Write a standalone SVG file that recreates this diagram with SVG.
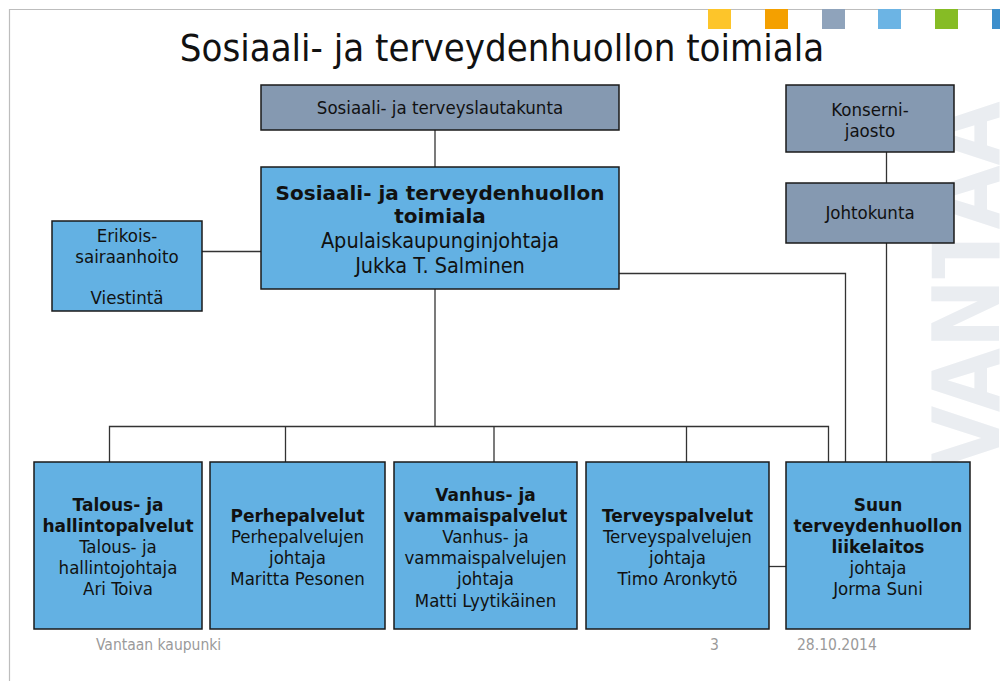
<svg xmlns="http://www.w3.org/2000/svg" width="1000" height="681" viewBox="0 0 1000 681">
<style>
.r{font-family:"DejaVu Sans Condensed","DejaVu Sans",sans-serif;font-stretch:condensed;fill:#111;text-anchor:middle}
.b{font-family:"DejaVu Sans",sans-serif;font-weight:bold;fill:#111;text-anchor:middle}
.gb{fill:#8599B1;stroke:#1a1a1a;stroke-width:1.5}
.bl{fill:#63B1E3;stroke:#1a1a1a;stroke-width:1.5}
.c{fill:none;stroke:#333;stroke-width:1.3}
.f{font-family:"DejaVu Sans Condensed","DejaVu Sans",sans-serif;font-stretch:condensed;fill:#9a9a9a;font-size:15.5px}
</style>
<rect width="1000" height="681" fill="#fff"/>
<text transform="translate(999,470) rotate(-90)" font-family="DejaVu Sans Condensed,DejaVu Sans,sans-serif" font-stretch="condensed" font-weight="bold" font-size="92" fill="#EAEDF1">VANTAA</text>
<g id="frame">
<line x1="9" y1="9.5" x2="1000" y2="9.5" stroke="#bdbdbd" stroke-width="1.2"/>
<line x1="9.5" y1="9" x2="9.5" y2="681" stroke="#bdbdbd" stroke-width="1.2"/>
<rect x="708" y="9" width="23" height="20" fill="#FDC52A"/>
<rect x="765" y="9" width="23" height="20" fill="#F4A000"/>
<rect x="822" y="9" width="23" height="20" fill="#8FA3BB"/>
<rect x="878" y="9" width="23" height="20" fill="#6CB4E4"/>
<rect x="935" y="9" width="23" height="20" fill="#86BC25"/>
<rect x="992" y="9" width="8" height="20" fill="#3D8FCC"/>
</g>
<text class="r" x="502" y="61" font-size="38">Sosiaali- ja terveydenhuollon toimiala</text>
<g id="connectors">
<path class="c" d="M435,130V167"/>
<path class="c" d="M202,251.5H261"/>
<path class="c" d="M619,273.5H845.5V462"/>
<path class="c" d="M886.5,152V183"/>
<path class="c" d="M886.5,243V462"/>
<path class="c" d="M435,289V426.5"/>
<path class="c" d="M109.5,462V426.5H828.5V462"/>
<path class="c" d="M285.5,426.5V462"/>
<path class="c" d="M494,426.5V462"/>
<path class="c" d="M686.5,426.5V462"/>
<path class="c" d="M769,566.5H786"/>
</g>
<g id="lautakunta">
<rect class="gb" x="261" y="85" width="358" height="45"/>
<text class="r" x="440" y="114" font-size="18.5">Sosiaali- ja terveyslautakunta</text>
</g>
<g id="toimiala">
<rect class="bl" x="261" y="167" width="358" height="122"/>
<text class="b" x="440" y="200" font-size="20">Sosiaali- ja terveydenhuollon</text>
<text class="b" x="440" y="223" font-size="20">toimiala</text>
<text class="r" x="440" y="248" font-size="21.5">Apulaiskaupunginjohtaja</text>
<text class="r" x="440" y="273" font-size="21.5">Jukka T. Salminen</text>
</g>
<g id="erikois">
<rect class="bl" x="52" y="221" width="150" height="90"/>
<text class="r" x="127" y="242" font-size="18.5">Erikois-</text>
<text class="r" x="127" y="263" font-size="18.5">sairaanhoito</text>
<text class="r" x="127" y="304" font-size="18.5">Viestintä</text>
</g>
<g id="konserni">
<rect class="gb" x="786" y="85" width="168" height="67"/>
<text class="r" x="870" y="116" font-size="18.5">Konserni-</text>
<text class="r" x="870" y="137" font-size="18.5">jaosto</text>
</g>
<g id="johtokunta">
<rect class="gb" x="786" y="183" width="168" height="60"/>
<text class="r" x="870" y="219" font-size="18.5">Johtokunta</text>
</g>
<g id="talous">
<rect class="bl" x="34" y="462" width="168" height="167"/>
<text class="b" x="118" y="511" font-size="17">Talous- ja</text>
<text class="b" x="118" y="532" font-size="17">hallintopalvelut</text>
<text class="r" x="118" y="553" font-size="18.5">Talous- ja</text>
<text class="r" x="118" y="574" font-size="18.5">hallintojohtaja</text>
<text class="r" x="118" y="595" font-size="18.5">Ari Toiva</text>
</g>
<g id="perhe">
<rect class="bl" x="210" y="462" width="175" height="167"/>
<text class="b" x="297.5" y="522" font-size="17">Perhepalvelut</text>
<text class="r" x="297.5" y="543" font-size="18.5">Perhepalvelujen</text>
<text class="r" x="297.5" y="564" font-size="18.5">johtaja</text>
<text class="r" x="297.5" y="585" font-size="18.5">Maritta Pesonen</text>
</g>
<g id="vanhus">
<rect class="bl" x="394" y="462" width="183" height="167"/>
<text class="b" x="485.5" y="501" font-size="17">Vanhus- ja</text>
<text class="b" x="485.5" y="522" font-size="17">vammaispalvelut</text>
<text class="r" x="485.5" y="543" font-size="18.5">Vanhus- ja</text>
<text class="r" x="485.5" y="564" font-size="18.5">vammaispalvelujen</text>
<text class="r" x="485.5" y="585" font-size="18.5">johtaja</text>
<text class="r" x="485.5" y="607" font-size="18.5">Matti Lyytikäinen</text>
</g>
<g id="terveys">
<rect class="bl" x="586" y="462" width="183" height="167"/>
<text class="b" x="677.5" y="522" font-size="17">Terveyspalvelut</text>
<text class="r" x="677.5" y="543" font-size="18.5">Terveyspalvelujen</text>
<text class="r" x="677.5" y="564" font-size="18.5">johtaja</text>
<text class="r" x="677.5" y="585" font-size="18.5">Timo Aronkytö</text>
</g>
<g id="suun">
<rect class="bl" x="786" y="462" width="184" height="167"/>
<text class="b" x="878" y="511" font-size="17">Suun</text>
<text class="b" x="878" y="532" font-size="17">terveydenhuollon</text>
<text class="b" x="878" y="553" font-size="17">liikelaitos</text>
<text class="r" x="878" y="574" font-size="18.5">johtaja</text>
<text class="r" x="878" y="595" font-size="18.5">Jorma Suni</text>
</g>
<g id="footer">
<text class="f" x="96" y="650">Vantaan kaupunki</text>
<text class="f" x="710" y="650">3</text>
<text class="f" x="797" y="650">28.10.2014</text>
</g>
</svg>
